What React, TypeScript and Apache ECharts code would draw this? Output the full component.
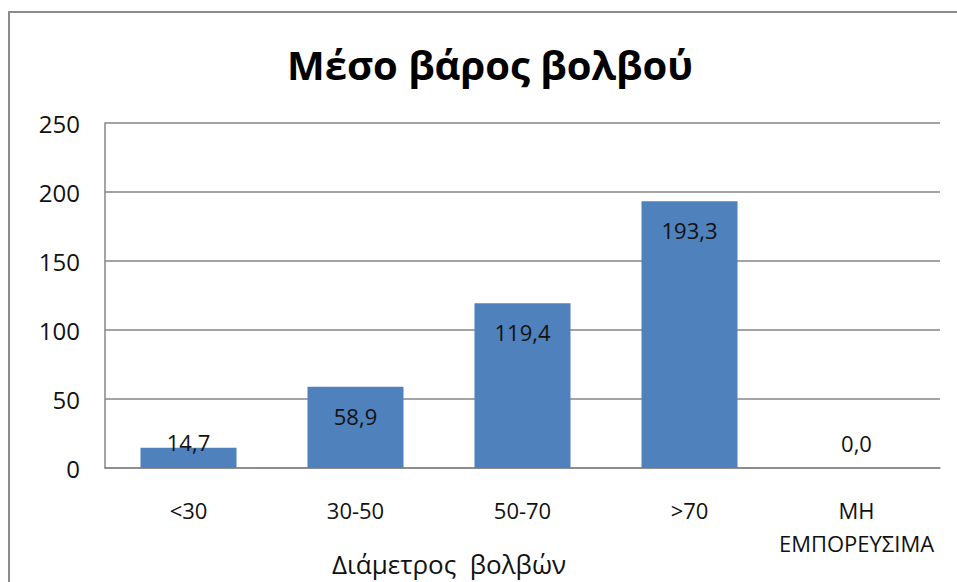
import React, { useEffect, useRef } from "react";
import * as echarts from "echarts";

// Bulb diameter classes and mean bulb weight per class
const categories: string[] = ["<30", "30-50", "50-70", ">70", "ΜΗ\nΕΜΠΟΡΕΥΣΙΜΑ"];
const meanWeight: number[] = [14.7, 58.9, 119.4, 193.3, 0.0];
const yTicks = { min: 0, max: 250, interval: 50 };

const TITLE = "Μέσο βάρος βολβού";
const X_NAME = "Διάμετρος  βολβών";
const FONT = "'Open Sans', 'Noto Sans', sans-serif";

const fmt = (v: number) => v.toFixed(1).replace(".", ",");

export default function App() {
  const ref = useRef<HTMLDivElement>(null);

  useEffect(() => {
    if (!ref.current) return;
    const chart = echarts.init(ref.current, undefined, { renderer: "svg" });

    const data = meanWeight.map((v, i) => {
      const item: any = { value: v };
      if (i === 0) {
        item.label = { position: "top", distance: 0, offset: [0, 5] };
      } else if (v === 0) {
        item.label = { position: "top", distance: 0, offset: [0, -14] };
      }
      return item;
    });

    chart.setOption({
      animation: false,
      backgroundColor: "#ffffff",
      textStyle: { fontFamily: FONT },
      grid: { left: 105, right: 17, top: 123, bottom: 114, containLabel: false },
      xAxis: {
        type: "category",
        data: categories,
        axisLine: { show: true, lineStyle: { color: "#868686", width: 1.5 } },
        axisTick: { show: false },
        axisLabel: {
          interval: 0,
          fontSize: 22,
          color: "#111",
          margin: 25,
          lineHeight: 33,
          fontFamily: FONT,
        },
      },
      yAxis: {
        type: "value",
        min: yTicks.min,
        max: yTicks.max,
        interval: yTicks.interval,
        axisLine: { show: true, lineStyle: { color: "#868686", width: 1.5 } },
        axisTick: { show: false },
        axisLabel: { fontSize: 24, color: "#111", margin: 25, fontFamily: FONT },
        splitLine: { show: true, lineStyle: { color: "#868686", width: 1.5 } },
      },
      series: [
        {
          type: "bar",
          data,
          barCategoryGap: "42.5%",
          itemStyle: { color: "#4f81bd" },
          label: {
            show: true,
            position: "insideTop",
            distance: 18,
            fontSize: 22,
            color: "#111",
            fontFamily: FONT,
            formatter: (p: any) => fmt(p.value),
          },
        },
      ],
      graphic: [
        {
          type: "rect",
          shape: { x: 9, y: 12, width: 1000, height: 700 },
          style: { fill: "none", stroke: "#8c8c8c", lineWidth: 2 },
          silent: true,
        },
        {
          type: "text",
          x: 490,
          y: 64,
          style: {
            text: TITLE,
            fontSize: 40,
            fontWeight: "bold",
            fontFamily: FONT,
            fill: "#000",
            textAlign: "center",
            textVerticalAlign: "middle",
          },
        },
        {
          type: "text",
          x: 449,
          y: 564,
          style: {
            text: X_NAME,
            fontSize: 26,
            fontFamily: FONT,
            fill: "#111",
            textAlign: "center",
            textVerticalAlign: "middle",
          },
        },
      ],
    });

    return () => chart.dispose();
  }, []);

  return (
    <div
      ref={ref}
      style={{ position: "fixed", left: 0, top: 0, width: 957, height: 582 }}
    />
  );
}
